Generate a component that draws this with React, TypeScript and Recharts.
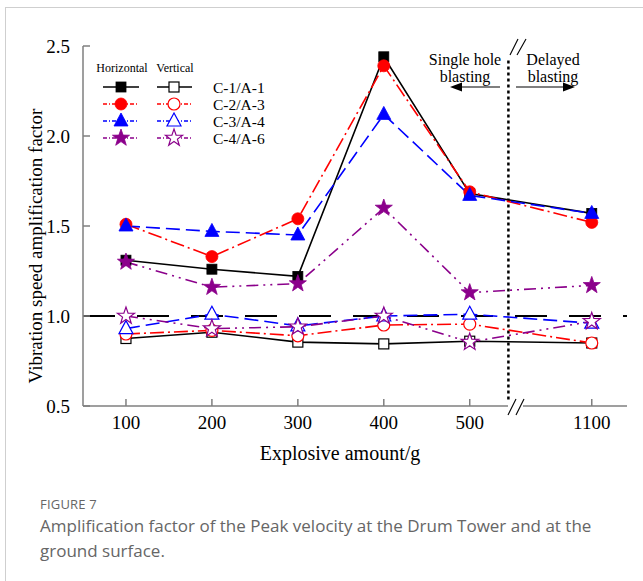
import React from 'react';
import { LineChart, Line, XAxis, YAxis, ReferenceLine } from 'recharts';

// explosive amount categories and their place on the broken x axis
const amounts = ['100', '200', '300', '400', '500', '1100'];
const axisPos = [1, 2, 3, 4, 5, 6.42];
const breakPos = 5.45;
const yTicks = [0.5, 1.0, 1.5, 2.0, 2.5];

// horizontal amplification factors
const c1 = [1.31, 1.26, 1.22, 2.44, 1.68, 1.57];
const c2 = [1.51, 1.33, 1.54, 2.39, 1.69, 1.52];
const c3 = [1.5, 1.47, 1.45, 2.12, 1.67, 1.57];
const c4 = [1.3, 1.16, 1.18, 1.6, 1.13, 1.17];

// vertical amplification factors
const a1 = [0.875, 0.91, 0.855, 0.845, 0.86, 0.85];
const a3 = [0.9, 0.92, 0.89, 0.95, 0.955, 0.85];
const a4 = [0.93, 1.01, 0.945, 1.0, 1.01, 0.96];
const a6 = [1.0, 0.93, 0.94, 1.0, 0.855, 0.97];

const data = amounts.map((a, i) => ({
  x: axisPos[i],
  c1: c1[i], c2: c2[i], c3: c3[i], c4: c4[i],
  a1: a1[i], a3: a3[i], a4: a4[i], a6: a6[i],
}));

type Shape = 'square' | 'circle' | 'triangle' | 'star';

const STYLES = [
  { label: 'C-1/A-1', h: 'c1', v: 'a1', color: '#000000', dash: undefined, shape: 'square' as Shape },
  { label: 'C-2/A-3', h: 'c2', v: 'a3', color: '#ff0000', dash: '14 4 2 4', shape: 'circle' as Shape },
  { label: 'C-3/A-4', h: 'c3', v: 'a4', color: '#0000ff', dash: '14 6', shape: 'triangle' as Shape },
  { label: 'C-4/A-6', h: 'c4', v: 'a6', color: '#8b008b', dash: '12 5 2 5 2 5', shape: 'star' as Shape },
];

const SERIF = '"Liberation Serif", "Times New Roman", serif';
const FRAME = '#7f7f7f';

function starPoints(cx: number, cy: number, R: number, r: number) {
  const pts: string[] = [];
  for (let i = 0; i < 10; i++) {
    const rad = i % 2 === 0 ? R : r;
    const ang = -Math.PI / 2 + (i * Math.PI) / 5;
    pts.push(`${cx + rad * Math.cos(ang)},${cy + rad * Math.sin(ang)}`);
  }
  return pts.join(' ');
}

function Marker({ shape, cx, cy, color, filled }: { shape: Shape; cx: number; cy: number; color: string; filled: boolean }) {
  const fill = filled ? color : '#ffffff';
  const sw = filled ? 0.8 : 1.2;
  if (shape === 'square') {
    return <rect x={cx - 5} y={cy - 5} width={10} height={10} fill={fill} stroke={color} strokeWidth={sw} />;
  }
  if (shape === 'circle') {
    return <circle cx={cx} cy={cy} r={6} fill={fill} stroke={color} strokeWidth={sw} />;
  }
  if (shape === 'triangle') {
    return <polygon points={`${cx},${cy - 8} ${cx - 7},${cy + 5} ${cx + 7},${cy + 5}`} fill={fill} stroke={color} strokeWidth={sw} />;
  }
  return <polygon points={starPoints(cx, cy, 9, 3.6)} fill={fill} stroke={color} strokeWidth={sw} />;
}

function Arrow({ x1, x2, y }: { x1: number; x2: number; y: number }) {
  const d = x2 > x1 ? 1 : -1;
  return (
    <g>
      <line x1={x1} y1={y} x2={x2 - d * 8} y2={y} stroke="#000" strokeWidth={1.2} />
      <polygon points={`${x2},${y} ${x2 - d * 12},${y - 4.5} ${x2 - d * 12},${y + 4.5}`} fill="#000" />
    </g>
  );
}

function Overlay() {
  const rows = [87, 104, 121, 138];
  return (
    <svg width={643} height={480} style={{ position: 'absolute', left: 0, top: 0, pointerEvents: 'none' }}>
      <g fontFamily={SERIF} fill="#000">
        <text x={35} y={246} fontSize={19} textAnchor="middle" dominantBaseline="central" transform="rotate(-90 35 246)">
          Vibration speed amplification factor
        </text>
        <text x={340} y={460} fontSize={20} textAnchor="middle">Explosive amount/g</text>

        <text x={122} y={72} fontSize={12} textAnchor="middle">Horizontal</text>
        <text x={175} y={72} fontSize={12} textAnchor="middle">Vertical</text>
        {STYLES.map((s, i) => (
          <g key={s.label}>
            <line x1={103} x2={139} y1={rows[i]} y2={rows[i]} stroke={s.color} strokeWidth={1.3} strokeDasharray={s.dash ? '4 2 1 2' : undefined} />
            <Marker shape={s.shape} cx={121} cy={rows[i]} color={s.color} filled />
            <line x1={157} x2={192} y1={rows[i]} y2={rows[i]} stroke={s.color} strokeWidth={1.3} strokeDasharray={s.dash ? '4 2 1 2' : undefined} />
            <Marker shape={s.shape} cx={174} cy={rows[i]} color={s.color} filled={false} />
            <text x={213} y={rows[i] + 5.5} fontSize={15.5}>{s.label}</text>
          </g>
        ))}

        <text x={465} y={65} fontSize={16} textAnchor="middle">Single hole</text>
        <text x={465} y={82} fontSize={16} textAnchor="middle">blasting</text>
        <text x={553} y={65} fontSize={16} textAnchor="middle">Delayed</text>
        <text x={553} y={82} fontSize={16} textAnchor="middle">blasting</text>
        <Arrow x1={500} x2={450} y={87} />
        <Arrow x1={516} x2={575} y={87} />

        {/* axis break marks */}
        <rect x={509} y={44} width={15} height={5} fill="#fff" />
        <line x1={510} y1={55} x2={518} y2={39} stroke="#000" strokeWidth={1.1} />
        <line x1={517} y1={55} x2={526} y2={39} stroke="#000" strokeWidth={1.1} />
        <rect x={508} y={404} width={15} height={5} fill="#fff" />
        <line x1={508} y1={415} x2={516} y2={399} stroke="#000" strokeWidth={1.1} />
        <line x1={516} y1={415} x2={524} y2={399} stroke="#000" strokeWidth={1.1} />
      </g>
    </svg>
  );
}

export default function App() {
  return (
    <div style={{ position: 'absolute', left: 0, top: 0, width: 643, height: 581, background: '#fff', overflow: 'hidden' }}>
      <div style={{ position: 'absolute', left: 5, top: 7, right: -2, bottom: -2, borderLeft: '1px solid #cfcfcf', borderTop: '1px solid #cfcfcf' }} />
      <div style={{ position: 'absolute', left: 0, top: 0 }}>
        <LineChart width={643} height={480} data={data} margin={{ top: 46, right: 16, bottom: 0, left: 0 }}>
          <XAxis
            dataKey="x"
            type="number"
            domain={[0.5, 6.83]}
            ticks={axisPos}
            tickFormatter={(v: number) => amounts[axisPos.indexOf(v)]}
            height={74}
            tickSize={-7}
            tickMargin={17}
            stroke={FRAME}
            strokeWidth={1.5}
            tick={{ fill: '#000', fontSize: 19, fontFamily: SERIF }}
          />
          <XAxis xAxisId="top" type="number" domain={[0.5, 6.83]} orientation="top" height={0} tick={false} tickLine={false} stroke={FRAME} strokeWidth={1.5} />
          <YAxis
            type="number"
            domain={[0.5, 2.5]}
            ticks={yTicks}
            tickFormatter={(v: number) => v.toFixed(1)}
            width={83}
            tickSize={-7}
            tickMargin={20}
            stroke={FRAME}
            strokeWidth={1.5}
            tick={{ fill: '#000', fontSize: 19, fontFamily: SERIF }}
          />
          <YAxis yAxisId="right" orientation="right" width={0} domain={[0.5, 2.5]} tick={false} tickLine={false} stroke={FRAME} strokeWidth={1.5} />
          <ReferenceLine y={1} stroke="#000" strokeWidth={2} strokeDasharray="32 22" />
          <ReferenceLine
            segment={[{ x: breakPos, y: 2.42 }, { x: breakPos, y: 0.53 }]}
            stroke="#000"
            strokeWidth={2.5}
            strokeDasharray="3 3"
          />
          {STYLES.map((s) => (
            <Line
              key={s.v}
              dataKey={s.v}
              type="linear"
              stroke={s.color}
              strokeWidth={1.6}
              strokeDasharray={s.dash}
              isAnimationActive={false}
              dot={(p: any) => <Marker key={`${s.v}-${p.index}`} shape={s.shape} cx={p.cx} cy={p.cy} color={s.color} filled={false} />}
            />
          ))}
          {STYLES.map((s) => (
            <Line
              key={s.h}
              dataKey={s.h}
              type="linear"
              stroke={s.color}
              strokeWidth={1.6}
              strokeDasharray={s.dash}
              isAnimationActive={false}
              dot={(p: any) => <Marker key={`${s.h}-${p.index}`} shape={s.shape} cx={p.cx} cy={p.cy} color={s.color} filled />}
            />
          ))}
        </LineChart>
      </div>
      <Overlay />
      <div style={{ position: 'absolute', left: 40, top: 495, width: 600, fontFamily: '"Open Sans", sans-serif', color: '#666' }}>
        <div style={{ fontSize: 13, lineHeight: '18px', letterSpacing: 0.2 }}>FIGURE 7</div>
        <div style={{ fontSize: 17, lineHeight: '25px' }}>
          Amplification factor of the Peak velocity at the Drum Tower and at the ground surface.
        </div>
      </div>
    </div>
  );
}
